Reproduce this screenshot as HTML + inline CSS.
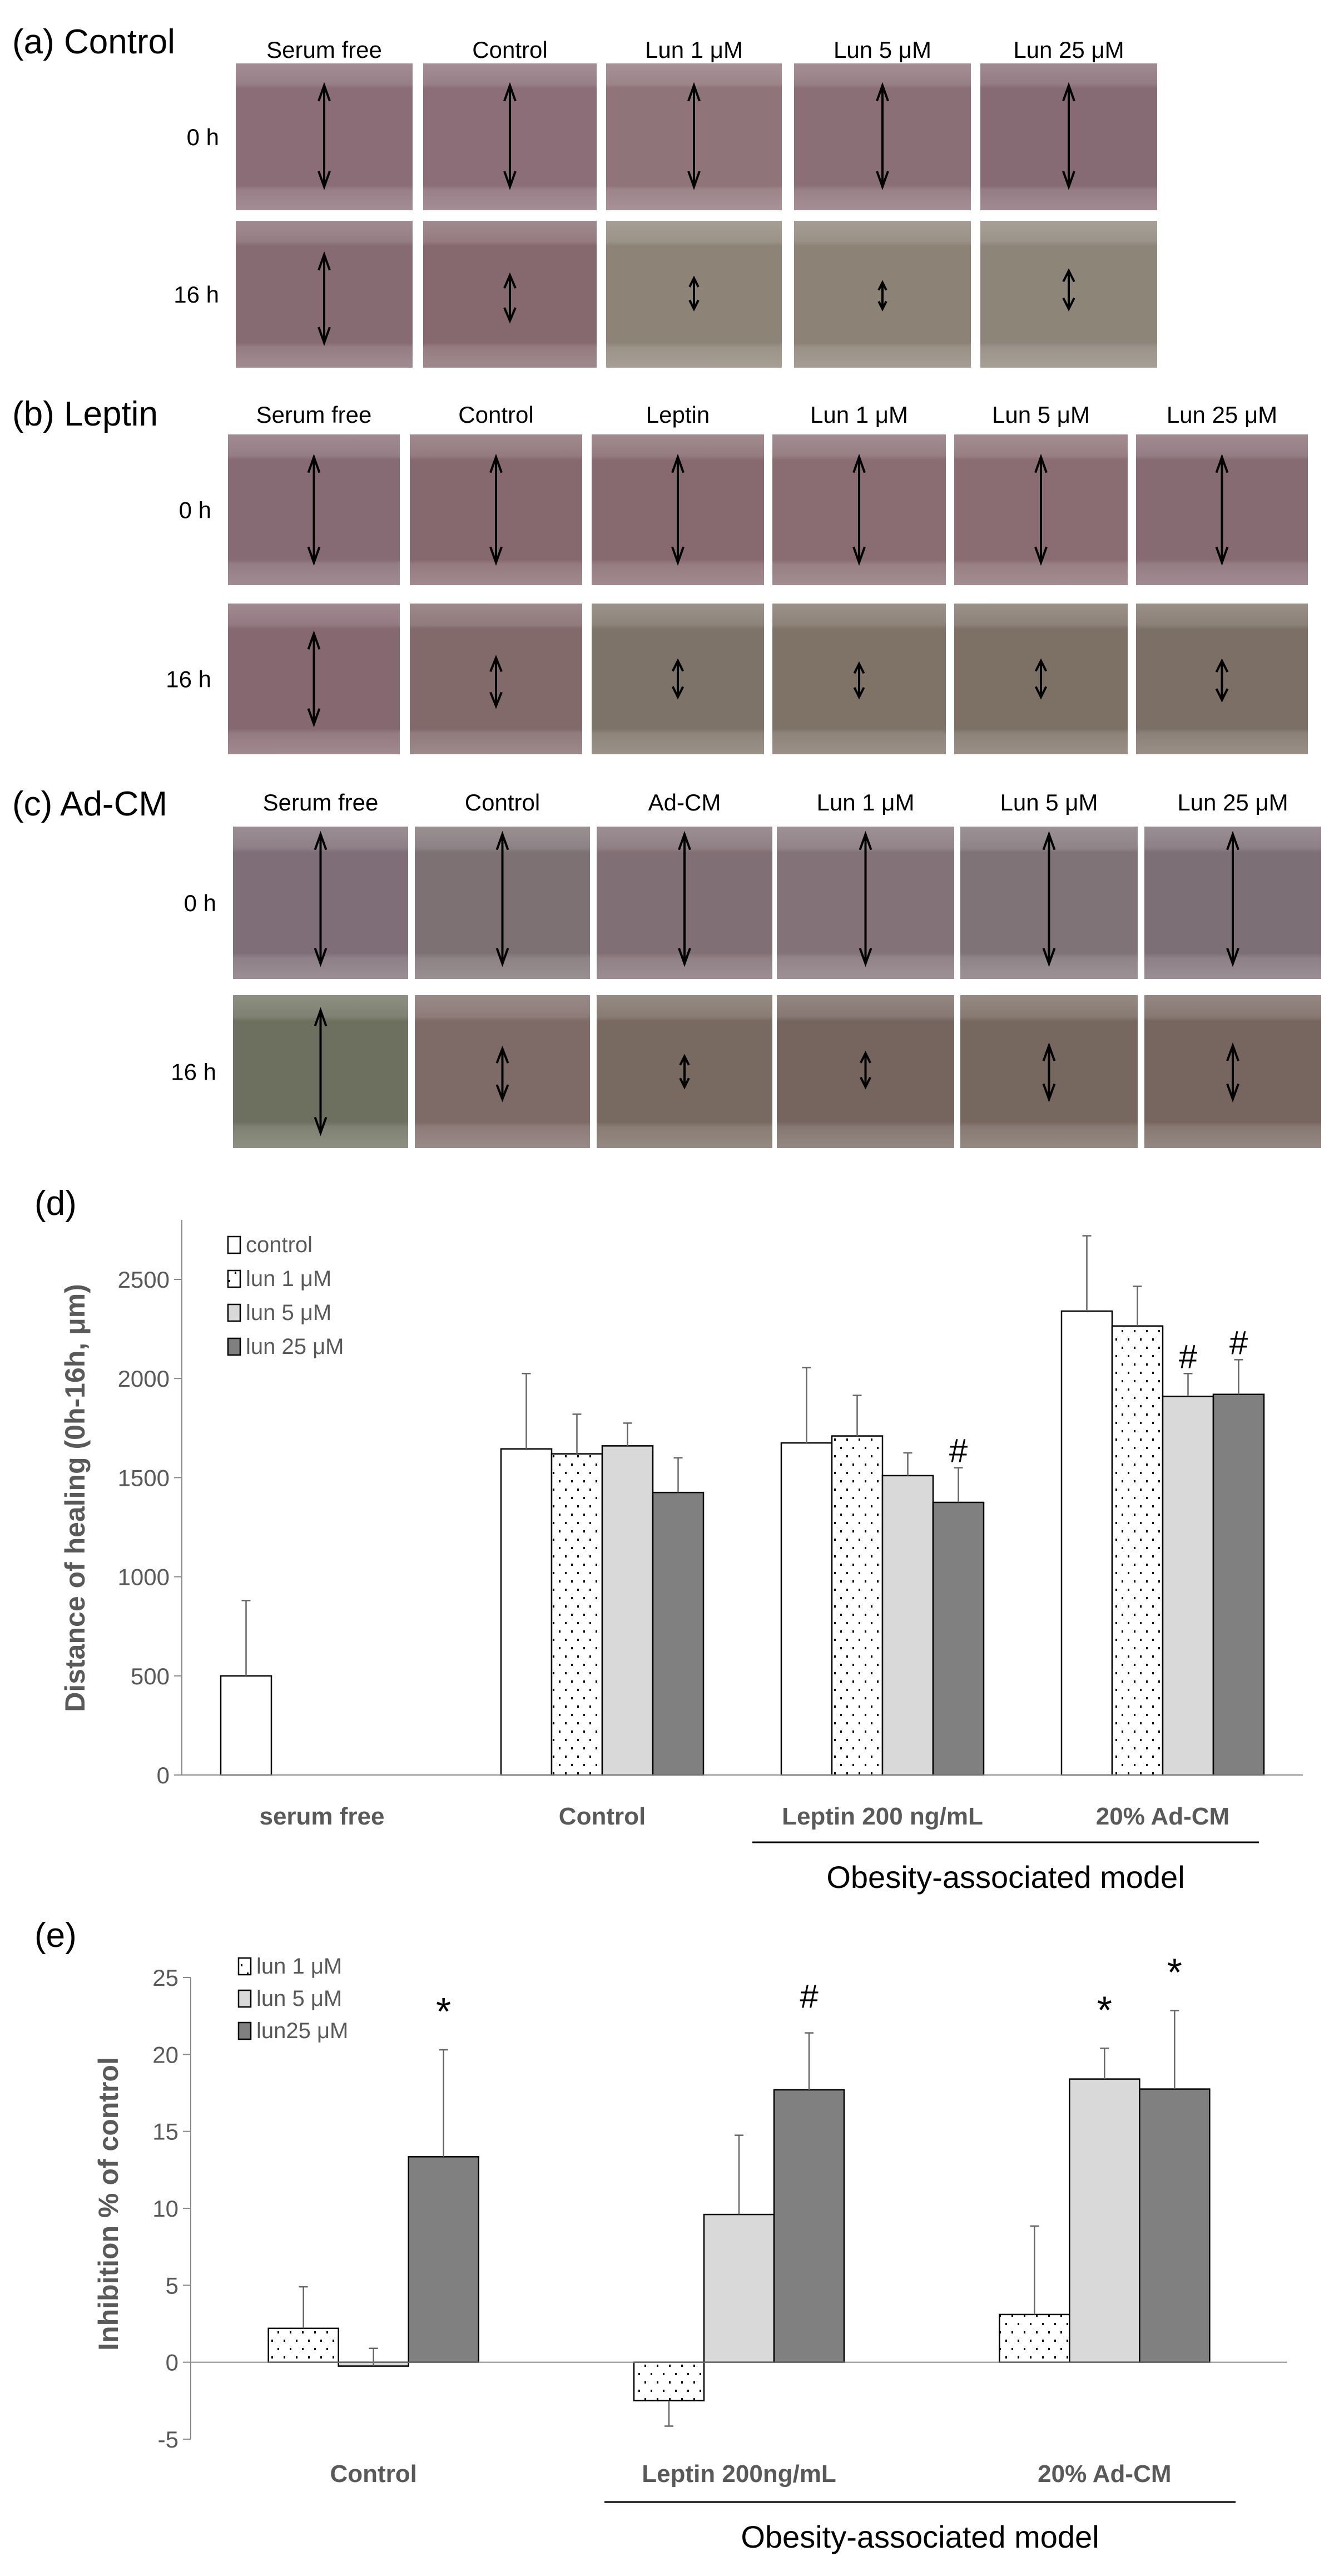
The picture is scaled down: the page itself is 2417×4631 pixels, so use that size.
<!DOCTYPE html>
<html><head><meta charset="utf-8"><style>
html,body{margin:0;padding:0;background:#fff;}
svg{display:block;font-family:"Liberation Sans",sans-serif;}
</style></head><body>
<svg id="fig" width="2417" height="4631" viewBox="0 0 2417 4631" xmlns="http://www.w3.org/2000/svg">
<defs>
<pattern id="dots" width="22" height="30" patternUnits="userSpaceOnUse">
<rect width="22" height="30" fill="#fff"/><rect x="4" y="6" width="3" height="4" fill="#000"/><rect x="15" y="21" width="3" height="4" fill="#000"/>
</pattern>
<linearGradient id="cellband" x1="0" y1="0" x2="0" y2="1">
<stop offset="0" stop-color="#fff" stop-opacity="0.22"/><stop offset="0.14" stop-color="#fff" stop-opacity="0.12"/><stop offset="0.17" stop-color="#fff" stop-opacity="0"/>
<stop offset="0.83" stop-color="#fff" stop-opacity="0"/><stop offset="0.86" stop-color="#fff" stop-opacity="0.12"/><stop offset="1" stop-color="#fff" stop-opacity="0.22"/>
</linearGradient>
</defs>
<g id="photos"></g>
<g id="chartD"></g>
<g id="chartE"></g>
</svg>
<script>
// ---------- Chart (d) data ----------
const dCategories = ["serum free","Control","Leptin 200 ng/mL","20% Ad-CM"];
const dSeries = ["control","lun 1 μM","lun 5 μM","lun 25 μM"];
const dControl = [500,1645,1675,2340];
const dLun1 = [null,1620,1710,2265];
const dLun5 = [null,1660,1510,1910];
const dLun25 = [null,1425,1375,1920];
const dErrControl = [380,380,380,380];
const dErrLun1 = [null,200,205,200];
const dErrLun5 = [null,115,115,115];
const dErrLun25 = [null,175,175,175];
const dMarks = [[null,null,null,null],[null,null,null,null],[null,null,null,"#"],[null,null,"#","#"]];
const dTicks = [0,500,1000,1500,2000,2500];

// ---------- Chart (e) data ----------
const eCategories = ["Control","Leptin 200ng/mL","20% Ad-CM"];
const eSeries = ["lun 1 μM","lun 5 μM","lun25 μM"];
const eLun1 = [2.2,-2.5,3.1];
const eLun5 = [-0.25,9.6,18.4];
const eLun25 = [13.35,17.7,17.75];
const eErrLun1 = [2.7,-1.65,5.75];
const eErrLun5 = [1.15,5.15,2.0];
const eErrLun25 = [6.95,3.7,5.1];
const eMarks = [[null,null,"*"],[null,null,"#"],[null,"*","*"]];
const eTicks = [-5,0,5,10,15,20,25];

const NS="http://www.w3.org/2000/svg";
function mk(parent,tag,attrs,text){const e=document.createElementNS(NS,tag);for(const k in attrs)e.setAttribute(k,attrs[k]);if(text!=null)e.textContent=text;parent.appendChild(e);return e;}

// ---------- Photos ----------
const P=document.getElementById('photos');
const panels=[
 {label:"(a)  Control",ly:74,hy:89,heads:["Serum free","Control","Lun  1 μM","Lun 5 μM","Lun 25 μM"],
  cols:[[424,742],[761,1073],[1090,1406],[1428,1746],[1763,2081]],rows:[[114,378],[397,661]],
  colors:[["#8a6d77","#8b6e78","#8f747a","#8b6f77","#866a74"],["#876b73","#86696f","#8d8477","#8c8276","#8e8579"]],
  arrows:[[[0.15,0.84],[0.15,0.84],[0.15,0.84],[0.15,0.84],[0.15,0.84]],[[0.23,0.83],[0.37,0.68],[0.39,0.6],[0.42,0.6],[0.34,0.6]]]},
 {label:"(b)  Leptin",ly:743,hy:745,heads:["Serum free","Control","Leptin","Lun  1 μM","Lun 5 μM","Lun 25 μM"],
  cols:[[410,719],[737,1047],[1064,1374],[1389,1701],[1716,2028],[2043,2352]],rows:[[781,1052],[1085,1356]],
  colors:[["#866b75","#86696f","#876a70","#896d73","#8a6d73","#866b73"],["#866871","#82696a","#7e7368","#7f7267","#7d7166","#7c7066"]],
  arrows:[[[0.15,0.85],[0.15,0.85],[0.15,0.85],[0.15,0.85],[0.15,0.85],[0.15,0.85]],[[0.2,0.8],[0.36,0.68],[0.38,0.62],[0.4,0.62],[0.38,0.62],[0.38,0.64]]]},
 {label:"(c)  Ad-CM",ly:1444,hy:1442,heads:["Serum free","Control","Ad-CM","Lun  1 μM","Lun 5 μM","Lun 25 μM"],
  cols:[[419,734],[746,1061],[1073,1389],[1397,1716],[1727,2046],[2058,2376]],rows:[[1486,1760],[1789,2064]],
  colors:[["#7f6e77","#7d7174","#806f74","#837378","#807378","#7d6f76"],["#6e705f","#7e6a66","#786a60","#76655f","#77685f","#77665f"]],
  arrows:[[[0.05,0.9],[0.05,0.9],[0.05,0.9],[0.05,0.9],[0.05,0.9],[0.05,0.9]],[[0.1,0.9],[0.35,0.68],[0.4,0.6],[0.38,0.6],[0.33,0.68],[0.33,0.68]]]}
];
panels.forEach((pn,pi)=>{
  const g=mk(P,'g',{});
  
  
  const t=mk(g,'text',{x:22,y:pn.ly+22,'font-size':62,fill:'#000'},pn.label);
  
  
  pn.heads.forEach((h,i)=>{
    const c=pn.cols[i];
    const ht=mk(g,'text',{x:(c[0]+c[1])/2,y:pn.hy+15,'font-size':42,'text-anchor':'middle',fill:'#000'},h);
    
    
  });
  ["0 h","16 h"].forEach((r,ri)=>{
    const rw=pn.rows[ri];
    const rt=mk(g,'text',{x:pn.cols[0][0]-30,y:(rw[0]+rw[1])/2+15,'font-size':42,'text-anchor':'end',fill:'#000'},r);
    
    
    pn.cols.forEach((c,ci)=>{
      const ph=mk(g,'rect',{x:c[0],y:rw[0],width:c[1]-c[0],height:rw[1]-rw[0],fill:pn.colors[ri][ci]});
      
      
      mk(g,'rect',{x:c[0],y:rw[0],width:c[1]-c[0],height:rw[1]-rw[0],fill:'url(#cellband)'});
      const a=pn.arrows[ri][ci],h=rw[1]-rw[0],cx=(c[0]+c[1])/2;
      const y1=rw[0]+a[0]*h,y2=rw[0]+a[1]*h;
      const hl=Math.min(28,(y2-y1)/3.5), hw=Math.min(10,hl*0.5);
      const ar=mk(g,'path',{d:`M${cx},${y1}V${y2}M${cx-hw},${y1+hl}L${cx},${y1}L${cx+hw},${y1+hl}M${cx-hw},${y2-hl}L${cx},${y2}L${cx+hw},${y2-hl}`,stroke:'#000','stroke-width':4,fill:'none'});
      
      
    });
  });
});

// ---------- Generic bar chart ----------
function barChart(G,o){
  const y=v=>o.y0-(v-o.vmin)*(o.y0-o.ytop)/(o.vmax-o.vmin);
  const cw=(o.x1-o.x0)/o.cats.length;
  const xc=i=>o.x0+cw*(i+0.5);
  const lab=mk(G,'text',{x:o.lx,y:o.ly,'font-size':62,fill:'#000'},o.label);
  
  
  const ax=mk(G,'line',{x1:o.x0,y1:y(o.vmin),x2:o.x0,y2:o.axTop,stroke:'#888','stroke-width':2});
  
  
  o.ticks.forEach(t=>{
    mk(G,'line',{x1:o.x0-14,y1:y(t),x2:o.x0,y2:y(t),stroke:'#888','stroke-width':2});
    const tl=mk(G,'text',{x:o.x0-22,y:y(t)+15,'font-size':42,'text-anchor':'end',fill:'#595959'},t);
    
    
  });
  const yt=mk(G,'text',{x:0,y:0,'font-size':50,'font-weight':'bold','text-anchor':'middle',fill:'#595959',transform:`translate(${o.ytx},${o.yty}) rotate(-90)`},o.ytitle);
  
  
  const n=o.vals.length,bw=o.bw;
  o.cats.forEach((c,i)=>{
    o.vals.forEach((arr,s)=>{
      const v=arr[i]; if(v==null)return;
      const bx=xc(i)-n*bw/2+s*bw;
      const top=Math.min(y(v),y(0)),h=Math.abs(y(v)-y(0));
      const r=mk(G,'rect',{x:bx,y:top,width:bw,height:h,fill:o.fills[s],stroke:'#000','stroke-width':2.5});
      
      
      const e=o.errs[s][i];
      if(e!=null){
        const ey=y(v+e), cx=bx+bw/2;
        const eb=mk(G,'path',{d:`M${cx},${y(v)}V${ey}M${cx-8},${ey}H${cx+8}`,stroke:'#666','stroke-width':2.5,fill:'none'});
        
        
        const m=o.marks[i][s];
        if(m){
          const mt=mk(G,'text',{x:cx,y:ey-o.markGap,'font-size':m=="*"?70:60,'text-anchor':'middle',fill:'#000'},m);
          
          
        }
      }
    });
    const cl=mk(G,'text',{x:xc(i),y:o.catY,'font-size':44,'font-weight':'bold','text-anchor':'middle',fill:'#595959'},c);
    
    
  });
  const base=mk(G,'line',{x1:o.x0,y1:y(0),x2:o.x1,y2:y(0),stroke:'#888','stroke-width':2});
  
  
  o.legend.forEach((l,k)=>{
    const ly=o.legY+k*o.legStep;
    const lb=mk(G,'rect',{x:o.legX,y:ly-14,width:22,height:30,fill:o.legFills[k],stroke:'#000','stroke-width':2.5});
    
    
    const lt=mk(G,'text',{x:o.legX+32,y:ly+14,'font-size':40,fill:'#595959'},l);
    
    
  });
  const ul=mk(G,'line',{x1:o.ulx1,y1:o.uly,x2:o.ulx2,y2:o.uly,stroke:'#000','stroke-width':3});
  
  
  const ot=mk(G,'text',{x:(o.ulx1+o.ulx2)/2,y:o.uly+82,'font-size':56,'text-anchor':'middle',fill:'#000'},"Obesity-associated model");
  
  
}

barChart(document.getElementById('chartD'),{
  label:"(d)",lx:62,ly:2184,x0:327,x1:2343,y0:3191,ytop:2300,vmin:0,vmax:2500,axTop:2193,
  ticks:dTicks,cats:dCategories,vals:[dControl,dLun1,dLun5,dLun25],errs:[dErrControl,dErrLun1,dErrLun5,dErrLun25],
  marks:dMarks,bw:91,fills:['#fff','url(#dots)','#d9d9d9','#808080'],markGap:10,
  ytitle:"Distance of healing (0h-16h, μm)",ytx:152,yty:2693,catY:3280,
  legend:dSeries,legFills:['#fff','url(#dots)','#d9d9d9','#808080'],legX:410,legY:2237,legStep:61,
  ulx1:1353,ulx2:2264,uly:3312
});
barChart(document.getElementById('chartE'),{
  label:"(e)",lx:62,ly:3500,x0:343,x1:2315,y0:4385,ytop:3555,vmin:-5,vmax:25,axTop:3555,
  ticks:eTicks,cats:eCategories,vals:[eLun1,eLun5,eLun25],errs:[eErrLun1,eErrLun5,eErrLun25],
  marks:eMarks,bw:126,fills:['url(#dots)','#d9d9d9','#808080'],markGap:45,
  ytitle:"Inhibition % of control",ytx:212,yty:3962,catY:4462,
  legend:eSeries,legFills:['url(#dots)','#d9d9d9','#808080'],legX:429,legY:3534,legStep:58,
  ulx1:1087,ulx2:2222,uly:4498
});
</script>
</body></html>
